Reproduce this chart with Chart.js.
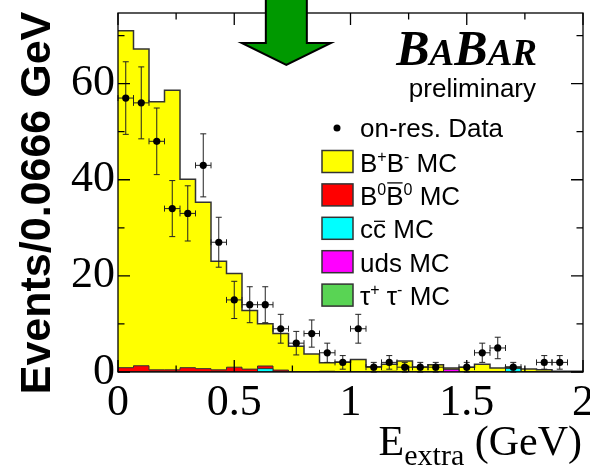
<!DOCTYPE html>
<html>
<head>
<meta charset="utf-8">
<script src="https://cdn.jsdelivr.net/npm/chart.js@4.4.1/dist/chart.umd.min.js"></script>
<style>
  html, body { margin: 0; padding: 0; background: #fff; }
  canvas { display: block; }
</style>
</head>
<body>
<canvas id="chart" width="590" height="468"></canvas>
<script>
// E_extra distribution, 30 bins of 0.0666 GeV between 0 and 2 GeV
const X_MIN = 0, X_MAX = 2, N_BINS = 30;
const BIN_W = (X_MAX - X_MIN) / N_BINS;
const Y_MAX = 74.7;
const X_TICKS = [0, 0.5, 1, 1.5, 2];
const Y_TICKS = [0, 20, 40, 60];

// on-resonance data (events per bin)
const dataCounts = [57, 56, 48, 34, 33, 43, 27, 15, 14, 14, 9, 6, 8, 4, 2,
                    9, 1, 2, 1, 1, 1, 0, 1, 4, 5, 1, 0, 2, 2, 0];

// MC components (not cumulative)
const bpbmMC = [70.1, 65.9, 55.8, 58.2, 39.2, 34.6, 22.6, 19.5, 12.2, 8.8, 7.6, 5.3, 3.7, 1.8, 2.0,
                2.5, 1.0, 1.45, 2.2, 0.95, 1.4, 0.3, 0.9, 1.5, 0.75, 0.3, 0.5, 0.4, 0.05, 0.05];
const b0b0MC = [0.9, 1.3, 0.45, 0.45, 0.9, 0.7, 0.45, 1.0, 0.6, 0.55, 0.4, 0.05, 0.05, 0.15, 0.1,
                0.1, 0.1, 0.15, 0.1, 0.1, 0.1, 0, 0.1, 0.1, 0.1, 0, 0.1, 0.05, 0, 0];
const ccMC   = [0, 0, 0, 0, 0, 0, 0, 0, 0, 0.7, 0, 0, 0, 0, 0,
                0, 0, 0, 0, 0, 0, 0, 0, 0, 0, 0.75, 0, 0, 0, 0];
const udsMC  = [0, 0, 0, 0, 0, 0, 0, 0, 0, 0, 0, 0, 0, 0, 0,
                0, 0, 0, 0, 0, 0, 0.55, 0, 0, 0, 0, 0, 0, 0, 0];
const tauMC  = [0, 0, 0, 0, 0, 0, 0, 0, 0, 0, 0, 0, 0, 0, 0,
                0, 0, 0, 0, 0, 0, 0, 0, 0, 0, 0, 0, 0, 0.1, 0.1];

const ARROW_X = 0.724;   // position of the cut arrow
const ARROW_TIP = 63.9;

// ROOT-like stack: each drawn histogram is the sum of itself and everything below
function addArrays(a, b) { return a.map((v, i) => v + b[i]); }
const stTau = tauMC.slice();
const stUds = addArrays(udsMC, stTau);
const stCc  = addArrays(ccMC, stUds);
const stB0  = addArrays(b0b0MC, stCc);
const stBp  = addArrays(bpbmMC, stB0);

function histPoints(vals) {
  const pts = vals.map((v, i) => ({ x: X_MIN + i * BIN_W, y: v }));
  pts.push({ x: X_MAX, y: vals[vals.length - 1] });
  return pts;
}

const dataPoints = dataCounts
  .map((n, i) => ({ x: X_MIN + (i + 0.5) * BIN_W, y: n }))
  .filter(p => p.y > 0);

function histDataset(label, vals, color, width) {
  return {
    label: label,
    data: histPoints(vals),
    stepped: 'before',
    fill: 'origin',
    backgroundColor: color,
    borderColor: '#333',
    borderWidth: width,
    pointRadius: 0,
    tension: 0,
  };
}

const SERIF = '"Liberation Serif", "Times New Roman", serif';
const SANS = '"Liberation Sans", Arial, Helvetica, sans-serif';

// error bars under the data points
const errorBars = {
  id: 'errorBars',
  beforeDatasetDraw(chart, args) {
    if (args.index !== 0) return;
    const { ctx, scales: { x, y } } = chart;
    ctx.save();
    ctx.strokeStyle = '#222';
    ctx.lineWidth = 1;
    ctx.beginPath();
    chart.data.datasets[0].data.forEach(p => {
      const px = x.getPixelForValue(p.x), py = y.getPixelForValue(p.y);
      const x0 = x.getPixelForValue(p.x - BIN_W / 2), x1 = x.getPixelForValue(p.x + BIN_W / 2);
      const e = Math.sqrt(p.y);
      const yt = y.getPixelForValue(p.y + e), yb = y.getPixelForValue(Math.max(0, p.y - e));
      ctx.moveTo(px, yt); ctx.lineTo(px, yb);
      ctx.moveTo(px - 3, yt); ctx.lineTo(px + 3, yt);
      ctx.moveTo(px - 3, yb); ctx.lineTo(px + 3, yb);
      ctx.moveTo(x0, py); ctx.lineTo(x1, py);
      ctx.moveTo(x0, py - 3); ctx.lineTo(x0, py + 3);
      ctx.moveTo(x1, py - 3); ctx.lineTo(x1, py + 3);
    });
    ctx.stroke();
    ctx.restore();
  }
};

// frame with inside ticks on all four sides
const frame = {
  id: 'frame',
  afterDatasetsDraw(chart) {
    const { ctx, chartArea: a, scales: { x, y } } = chart;
    ctx.save();
    ctx.strokeStyle = '#000';
    ctx.lineWidth = 1.3;
    ctx.beginPath();
    for (let v = X_MIN; v <= X_MAX + 1e-9; v += 0.25) {
      const px = x.getPixelForValue(v);
      const major = Math.abs(v * 2 - Math.round(v * 2)) < 1e-6;
      const len = major ? 12 : 6.5;
      ctx.moveTo(px, a.bottom); ctx.lineTo(px, a.bottom - len);
      ctx.moveTo(px, a.top); ctx.lineTo(px, a.top + len);
    }
    for (let v = 0; v <= Y_MAX; v += 10) {
      const py = y.getPixelForValue(v);
      const len = (v % 20 === 0) ? 12 : 6.5;
      ctx.moveTo(a.left, py); ctx.lineTo(a.left + len, py);
      ctx.moveTo(a.right, py); ctx.lineTo(a.right - len, py);
    }
    ctx.stroke();
    ctx.strokeRect(a.left, a.top, a.right - a.left, a.bottom - a.top);
    ctx.restore();
  }
};

// text made of pieces: sizes, shifts and overlines
function drawRich(ctx, x, y, parts, family) {
  let cx = x;
  parts.forEach(p => {
    ctx.font = (p.bold ? 'bold ' : '') + (p.italic ? 'italic ' : '') + p.size + 'px ' + family;
    ctx.fillText(p.t, cx, y + (p.dy || 0));
    const w = ctx.measureText(p.t).width;
    if (p.over) {
      ctx.save();
      ctx.lineWidth = 1.3;
      ctx.beginPath();
      ctx.moveTo(cx + 1, y - p.over); ctx.lineTo(cx + w - 1, y - p.over);
      ctx.stroke();
      ctx.restore();
    }
    cx += w;
  });
  return cx - x;
}
function richWidth(ctx, parts, family) {
  let w = 0;
  parts.forEach(p => {
    ctx.font = (p.bold ? 'bold ' : '') + (p.italic ? 'italic ' : '') + p.size + 'px ' + family;
    w += ctx.measureText(p.t).width;
  });
  return w;
}

const LEGEND = [
  { color: '#ffff00', parts: [{ t: 'B', size: 26 }, { t: '+', size: 16, dy: -10 }, { t: 'B', size: 26 }, { t: '-', size: 16, dy: -10 }, { t: ' MC', size: 26 }] },
  { color: '#ff0000', parts: [{ t: 'B', size: 26 }, { t: '0', size: 16, dy: -10 }, { t: 'B', size: 26, over: 22 }, { t: '0', size: 16, dy: -10 }, { t: ' MC', size: 26 }] },
  { color: '#00ffff', parts: [{ t: 'c', size: 26 }, { t: 'c', size: 26, over: 17 }, { t: ' MC', size: 26 }] },
  { color: '#ff00ff', parts: [{ t: 'uds MC', size: 26 }] },
  { color: '#59d454', parts: [{ t: '\u03c4', size: 26 }, { t: '+', size: 16, dy: -10 }, { t: ' \u03c4', size: 26 }, { t: '-', size: 16, dy: -10 }, { t: ' MC', size: 26 }] },
];

const annotations = {
  id: 'annotations',
  afterDraw(chart) {
    const { ctx, scales: { x, y } } = chart;
    ctx.save();

    // cut arrow
    const cx = x.getPixelForValue(ARROW_X);
    const tipY = y.getPixelForValue(ARROW_TIP);
    const headY = tipY - 22, sh = 20.5, hh = 44.6;
    ctx.beginPath();
    ctx.moveTo(cx - sh, -3);
    ctx.lineTo(cx - sh, headY);
    ctx.lineTo(cx - hh, headY);
    ctx.lineTo(cx, tipY);
    ctx.lineTo(cx + hh, headY);
    ctx.lineTo(cx + sh, headY);
    ctx.lineTo(cx + sh, -3);
    ctx.closePath();
    ctx.fillStyle = '#009900';
    ctx.fill();
    ctx.lineWidth = 2;
    ctx.strokeStyle = '#000';
    ctx.stroke();

    ctx.fillStyle = '#000';
    ctx.textBaseline = 'alphabetic';
    ctx.textAlign = 'left';

    // BaBar logo
    const logo = [
      { t: 'B', size: 50, bold: true, italic: true },
      { t: 'A', size: 37, bold: true, italic: true },
      { t: 'B', size: 50, bold: true, italic: true },
      { t: 'AR', size: 37, bold: true, italic: true },
    ];
    const lw = richWidth(ctx, logo, SERIF);
    drawRich(ctx, 537 - lw, 65, logo, SERIF);

    ctx.font = '26px ' + SANS;
    ctx.textAlign = 'right';
    ctx.fillText('preliminary', 536, 97);
    ctx.textAlign = 'left';

    // legend
    ctx.beginPath();
    ctx.arc(337, 128, 3.5, 0, Math.PI * 2);
    ctx.fill();
    ctx.font = '26px ' + SANS;
    ctx.fillText('on-res. Data', 360, 137);
    LEGEND.forEach((item, i) => {
      const base = 171.5 + i * 33.4;
      ctx.fillStyle = item.color;
      ctx.fillRect(322, base - 21, 31, 22);
      ctx.strokeStyle = '#333';
      ctx.lineWidth = 1.5;
      ctx.strokeRect(322, base - 21, 31, 22);
      ctx.fillStyle = '#000';
      ctx.strokeStyle = '#000';
      drawRich(ctx, 360, base, item.parts, SANS);
    });

    // y axis title
    ctx.save();
    ctx.translate(50, 203);
    ctx.rotate(-Math.PI / 2);
    ctx.font = 'bold 43px ' + SANS;
    ctx.textAlign = 'center';
    ctx.fillText('Events/0.0666 GeV', 0, 0);
    ctx.restore();

    // x axis title
    const xt = [
      { t: 'E', size: 42 },
      { t: 'extra', size: 30, dy: 10 },
      { t: ' (GeV)', size: 42 },
    ];
    const xw = richWidth(ctx, xt, SERIF);
    drawRich(ctx, 582 - xw, 455, xt, SERIF);

    ctx.restore();
  }
};

new Chart(document.getElementById('chart'), {
  type: 'line',
  data: {
    datasets: [
      {
        type: 'scatter',
        label: 'on-res. Data',
        data: dataPoints,
        showLine: false,
        pointRadius: 3.6,
        pointBackgroundColor: '#000',
        pointBorderWidth: 0,
      },
      histDataset('tau+ tau- MC', stTau, '#59d454', 1),
      histDataset('uds MC', stUds, '#ff00ff', 1),
      histDataset('cc MC', stCc, '#00ffff', 1),
      histDataset('B0 B0bar MC', stB0, '#ff0000', 1),
      histDataset('B+B- MC', stBp, '#ffff00', 1.5),
    ]
  },
  options: {
    responsive: false,
    animation: false,
    events: [],
    layout: { padding: { top: 13, right: 7, left: 0, bottom: 0 } },
    plugins: { legend: { display: false }, tooltip: { enabled: false } },
    scales: {
      x: {
        type: 'linear',
        min: X_MIN,
        max: X_MAX,
        grid: { display: false, drawTicks: false },
        border: { display: false },
        ticks: {
          color: '#000',
          font: { family: SERIF, size: 44 },
          padding: 5,
          maxRotation: 0,
          autoSkip: false,
          callback: v => String(v),
        },
        afterBuildTicks: s => { s.ticks = X_TICKS.map(v => ({ value: v })); },
        afterFit: s => { s.height = 96; s.paddingLeft = 0; s.paddingRight = 0; },
      },
      y: {
        type: 'linear',
        min: 0,
        max: Y_MAX,
        grid: { display: false, drawTicks: false },
        border: { display: false },
        ticks: {
          color: '#000',
          font: { family: SERIF, size: 44 },
          padding: 3,
          autoSkip: false,
          callback: v => String(v),
        },
        afterBuildTicks: s => { s.ticks = Y_TICKS.map(v => ({ value: v })); },
        afterFit: s => { s.width = 118; s.paddingTop = 0; s.paddingBottom = 0; },
      }
    }
  },
  plugins: [errorBars, frame, annotations]
});
</script>
</body>
</html>
